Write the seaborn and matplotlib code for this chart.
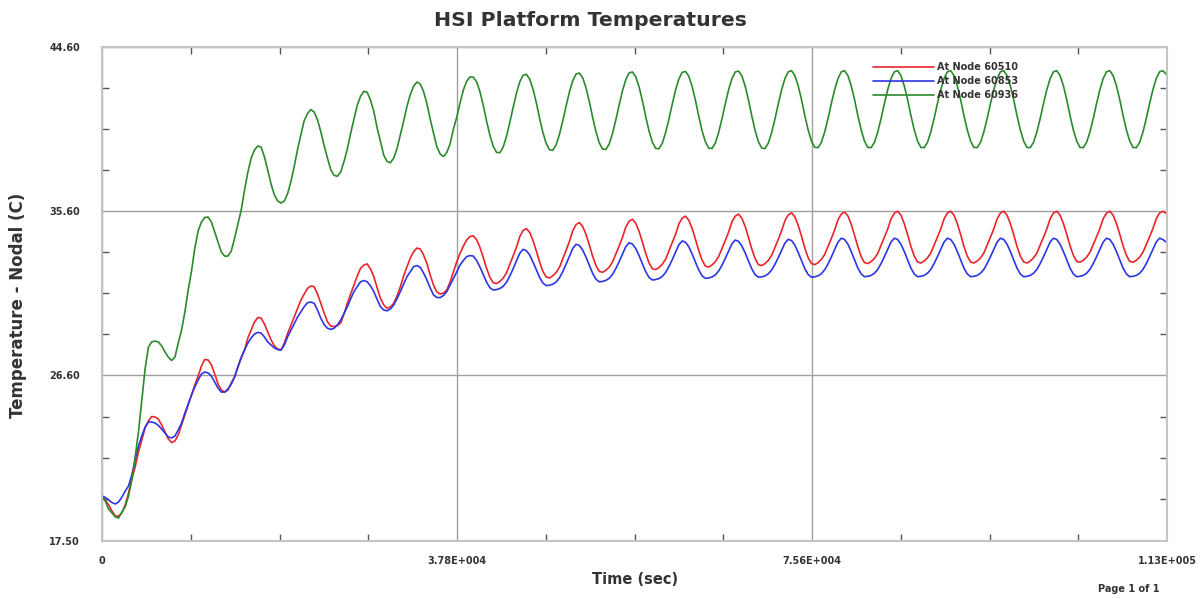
import numpy as np
import pandas as pd
import matplotlib
matplotlib.use("Agg")
import matplotlib.pyplot as plt
import seaborn as sns
from matplotlib.ticker import FixedLocator

# --------------------------
# DATA (one row = one daily-style cycle)
# --------------------------
time_s = [
    0, 353, 706, 1059, 1412, 1765, 2118, 2471, 2824, 3177, 3530, 3883, 4236, 4589, 4942, 5295,
    5648, 6001, 6354, 6707, 7060, 7413, 7766, 8119, 8472, 8825, 9178, 9531, 9884, 10237, 10590, 10943,
    11296, 11649, 12002, 12355, 12708, 13061, 13414, 13767, 14120, 14473, 14826, 15179, 15532, 15885, 16238, 16591,
    16944, 17297, 17650, 18003, 18356, 18709, 19062, 19415, 19768, 20121, 20474, 20827, 21180, 21533, 21886, 22239,
    22592, 22945, 23298, 23651, 24004, 24357, 24710, 25063, 25416, 25769, 26122, 26475, 26828, 27181, 27534, 27887,
    28240, 28593, 28946, 29299, 29652, 30005, 30358, 30711, 31064, 31417, 31770, 32123, 32476, 32829, 33182, 33535,
    33888, 34241, 34594, 34947, 35300, 35653, 36006, 36359, 36712, 37065, 37418, 37771, 38124, 38477, 38830, 39183,
    39536, 39889, 40242, 40595, 40948, 41301, 41654, 42007, 42360, 42713, 43066, 43419, 43772, 44125, 44478, 44831,
    45184, 45537, 45890, 46243, 46596, 46949, 47302, 47655, 48008, 48361, 48714, 49067, 49420, 49773, 50126, 50479,
    50832, 51185, 51538, 51891, 52244, 52597, 52950, 53303, 53656, 54009, 54362, 54715, 55068, 55421, 55774, 56127,
    56480, 56833, 57186, 57539, 57892, 58245, 58598, 58951, 59304, 59657, 60010, 60363, 60716, 61069, 61422, 61775,
    62128, 62481, 62834, 63187, 63540, 63893, 64246, 64599, 64952, 65305, 65658, 66011, 66364, 66717, 67070, 67423,
    67776, 68129, 68482, 68835, 69188, 69541, 69894, 70247, 70600, 70953, 71306, 71659, 72012, 72365, 72718, 73071,
    73424, 73777, 74130, 74483, 74836, 75189, 75542, 75895, 76248, 76601, 76954, 77307, 77660, 78013, 78366, 78719,
    79072, 79425, 79778, 80131, 80484, 80837, 81190, 81543, 81896, 82249, 82602, 82955, 83308, 83661, 84014, 84367,
    84720, 85073, 85426, 85779, 86132, 86485, 86838, 87191, 87544, 87897, 88250, 88603, 88956, 89309, 89662, 90015,
    90368, 90721, 91074, 91427, 91780, 92133, 92486, 92839, 93192, 93545, 93898, 94251, 94604, 94957, 95310, 95663,
    96016, 96369, 96722, 97075, 97428, 97781, 98134, 98487, 98840, 99193, 99546, 99899, 100252, 100605, 100958, 101311,
    101664, 102017, 102370, 102723, 103076, 103429, 103782, 104135, 104488, 104841, 105194, 105547, 105900, 106253, 106606, 106959,
    107312, 107665, 108018, 108371, 108724, 109077, 109430, 109783, 110136, 110489, 110842, 111195, 111548, 111901, 112254, 112607,
    112960, 113400,
]

node_60510 = [
    19.97, 19.75, 19.48, 19.15, 18.87, 18.87, 19.04, 19.48, 20.13, 20.90, 21.56, 22.38, 23.04, 23.70, 24.08, 24.33,
    24.30, 24.19, 23.86, 23.48, 23.10, 22.90, 22.99, 23.32, 23.86, 24.41, 24.96, 25.51, 26.06, 26.55, 27.10, 27.46,
    27.43, 27.16, 26.66, 26.11, 25.78, 25.67, 25.78, 26.17, 26.50, 27.05, 27.59, 27.98, 28.64, 29.07, 29.51, 29.76,
    29.73, 29.40, 28.97, 28.53, 28.20, 28.03, 27.98, 28.36, 28.89, 29.35, 29.80, 30.28, 30.72, 31.05, 31.36, 31.49,
    31.45, 31.05, 30.54, 30.01, 29.53, 29.29, 29.26, 29.32, 29.46, 29.95, 30.54, 31.05, 31.54, 32.04, 32.46, 32.64,
    32.70, 32.42, 32.00, 31.38, 30.81, 30.45, 30.27, 30.34, 30.54, 30.94, 31.45, 32.04, 32.55, 33.02, 33.37, 33.57,
    33.52, 33.19, 32.73, 32.09, 31.54, 31.16, 31.05, 31.10, 31.27, 31.71, 32.27, 32.81, 33.28, 33.68, 34.01, 34.20,
    34.24, 34.03, 33.61, 33.06, 32.46, 31.97, 31.67, 31.62, 31.74, 31.92, 32.21, 32.67, 33.13, 33.61, 34.19, 34.53,
    34.64, 34.43, 33.99, 33.42, 32.80, 32.29, 31.98, 31.93, 32.05, 32.23, 32.52, 32.98, 33.45, 33.94, 34.52, 34.86,
    34.97, 34.75, 34.32, 33.74, 33.12, 32.61, 32.29, 32.24, 32.35, 32.53, 32.81, 33.25, 33.69, 34.16, 34.72, 35.04,
    35.15, 34.93, 34.49, 33.90, 33.28, 32.76, 32.44, 32.39, 32.50, 32.68, 32.96, 33.41, 33.85, 34.32, 34.89, 35.21,
    35.32, 35.10, 34.65, 34.06, 33.43, 32.91, 32.58, 32.53, 32.64, 32.82, 33.10, 33.54, 33.98, 34.44, 35.00, 35.32,
    35.43, 35.21, 34.76, 34.16, 33.52, 32.99, 32.66, 32.61, 32.72, 32.90, 33.17, 33.61, 34.05, 34.52, 35.07, 35.39,
    35.50, 35.28, 34.82, 34.22, 33.57, 33.04, 32.72, 32.66, 32.77, 32.95, 33.22, 33.66, 34.10, 34.57, 35.12, 35.44,
    35.55, 35.33, 34.87, 34.27, 33.63, 33.10, 32.77, 32.72, 32.83, 33.00, 33.28, 33.72, 34.15, 34.61, 35.17, 35.48,
    35.59, 35.37, 34.91, 34.31, 33.66, 33.13, 32.81, 32.75, 32.86, 33.03, 33.30, 33.73, 34.17, 34.62, 35.17, 35.49,
    35.59, 35.37, 34.91, 34.31, 33.66, 33.13, 32.81, 32.75, 32.86, 33.03, 33.30, 33.73, 34.17, 34.62, 35.17, 35.49,
    35.59, 35.37, 34.91, 34.31, 33.66, 33.13, 32.81, 32.75, 32.86, 33.03, 33.30, 33.73, 34.17, 34.62, 35.17, 35.49,
    35.59, 35.37, 34.92, 34.33, 33.69, 33.17, 32.84, 32.79, 32.90, 33.07, 33.34, 33.76, 34.19, 34.64, 35.18, 35.49,
    35.59, 35.37, 34.92, 34.33, 33.69, 33.17, 32.84, 32.79, 32.90, 33.07, 33.34, 33.76, 34.19, 34.64, 35.18, 35.49,
    35.59, 35.44,
]

node_60853 = [
    19.97, 19.89, 19.75, 19.61, 19.53, 19.64, 19.91, 20.24, 20.52, 21.12, 21.94, 22.71, 23.26, 23.75, 24.03, 24.03,
    23.97, 23.84, 23.64, 23.42, 23.21, 23.15, 23.26, 23.59, 23.97, 24.52, 25.02, 25.51, 25.95, 26.33, 26.66, 26.77,
    26.72, 26.55, 26.22, 25.89, 25.67, 25.67, 25.84, 26.11, 26.50, 27.05, 27.54, 27.98, 28.36, 28.64, 28.86, 28.94,
    28.91, 28.69, 28.42, 28.25, 28.09, 28.00, 27.98, 28.25, 28.71, 29.07, 29.44, 29.79, 30.08, 30.36, 30.57, 30.61,
    30.54, 30.17, 29.72, 29.38, 29.17, 29.11, 29.17, 29.35, 29.62, 29.98, 30.35, 30.78, 31.18, 31.46, 31.72, 31.79,
    31.72, 31.49, 31.18, 30.75, 30.35, 30.17, 30.13, 30.23, 30.45, 30.80, 31.18, 31.60, 32.00, 32.28, 32.55, 32.61,
    32.51, 32.20, 31.82, 31.38, 31.00, 30.86, 30.85, 30.97, 31.18, 31.54, 31.91, 32.26, 32.64, 32.89, 33.10, 33.16,
    33.13, 32.89, 32.53, 32.11, 31.70, 31.40, 31.27, 31.29, 31.35, 31.47, 31.69, 32.03, 32.43, 32.85, 33.28, 33.50,
    33.43, 33.19, 32.81, 32.38, 31.96, 31.65, 31.51, 31.53, 31.59, 31.71, 31.94, 32.28, 32.69, 33.12, 33.55, 33.78,
    33.71, 33.46, 33.07, 32.62, 32.18, 31.86, 31.72, 31.74, 31.80, 31.91, 32.13, 32.45, 32.83, 33.24, 33.65, 33.86,
    33.79, 33.54, 33.16, 32.71, 32.28, 31.96, 31.82, 31.84, 31.90, 32.01, 32.23, 32.55, 32.93, 33.34, 33.75, 33.96,
    33.89, 33.64, 33.25, 32.80, 32.37, 32.05, 31.91, 31.93, 31.98, 32.10, 32.31, 32.62, 33.00, 33.40, 33.80, 34.01,
    33.94, 33.69, 33.31, 32.86, 32.43, 32.11, 31.97, 31.99, 32.04, 32.16, 32.37, 32.68, 33.05, 33.45, 33.84, 34.05,
    33.98, 33.73, 33.33, 32.88, 32.44, 32.12, 31.97, 31.99, 32.05, 32.16, 32.38, 32.70, 33.08, 33.49, 33.90, 34.11,
    34.04, 33.78, 33.38, 32.92, 32.47, 32.15, 32.00, 32.02, 32.07, 32.19, 32.40, 32.72, 33.10, 33.50, 33.90, 34.11,
    34.04, 33.78, 33.38, 32.92, 32.47, 32.15, 32.00, 32.02, 32.07, 32.19, 32.40, 32.72, 33.10, 33.50, 33.90, 34.11,
    34.04, 33.78, 33.38, 32.92, 32.47, 32.15, 32.00, 32.02, 32.07, 32.19, 32.40, 32.72, 33.10, 33.50, 33.90, 34.11,
    34.04, 33.78, 33.38, 32.92, 32.47, 32.15, 32.00, 32.02, 32.07, 32.19, 32.40, 32.72, 33.10, 33.50, 33.90, 34.11,
    34.04, 33.78, 33.38, 32.92, 32.47, 32.15, 32.00, 32.02, 32.07, 32.19, 32.40, 32.72, 33.10, 33.50, 33.90, 34.11,
    34.04, 33.78, 33.38, 32.92, 32.47, 32.15, 32.00, 32.02, 32.07, 32.19, 32.40, 32.72, 33.10, 33.50, 33.90, 34.11,
    34.04, 33.86,
]

node_60936 = [
    19.97, 19.69, 19.25, 19.04, 18.82, 18.76, 19.09, 19.37, 19.97, 20.85, 22.11, 23.48, 25.23, 26.94, 28.14, 28.42,
    28.47, 28.42, 28.20, 27.87, 27.59, 27.40, 27.59, 28.36, 29.07, 30.06, 31.27, 32.31, 33.57, 34.51, 35.00, 35.25,
    35.27, 35.00, 34.45, 33.90, 33.35, 33.13, 33.13, 33.41, 34.12, 34.89, 35.66, 36.75, 37.74, 38.51, 38.95, 39.17,
    39.11, 38.57, 37.85, 37.08, 36.48, 36.15, 36.04, 36.15, 36.56, 37.23, 38.07, 38.99, 39.80, 40.57, 40.95, 41.17,
    41.03, 40.60, 39.96, 39.19, 38.51, 37.87, 37.56, 37.51, 37.74, 38.32, 39.00, 39.86, 40.65, 41.41, 41.90, 42.17,
    42.11, 41.69, 41.06, 40.15, 39.42, 38.66, 38.32, 38.25, 38.51, 39.03, 39.78, 40.54, 41.35, 42.00, 42.45, 42.68,
    42.57, 42.16, 41.50, 40.64, 39.88, 39.13, 38.73, 38.59, 38.81, 39.28, 40.10, 40.74, 41.53, 42.24, 42.72, 42.96,
    42.95, 42.69, 42.15, 41.40, 40.54, 39.77, 39.16, 38.82, 38.80, 39.10, 39.69, 40.45, 41.27, 42.05, 42.68, 43.05,
    43.10, 42.84, 42.30, 41.55, 40.69, 39.91, 39.30, 38.96, 38.94, 39.24, 39.81, 40.56, 41.37, 42.14, 42.75, 43.12,
    43.17, 42.91, 42.36, 41.60, 40.74, 39.96, 39.34, 39.00, 38.98, 39.28, 39.86, 40.61, 41.42, 42.20, 42.81, 43.18,
    43.23, 42.97, 42.42, 41.66, 40.79, 40.00, 39.39, 39.04, 39.02, 39.32, 39.90, 40.64, 41.46, 42.23, 42.84, 43.21,
    43.26, 43.00, 42.44, 41.68, 40.81, 40.01, 39.40, 39.05, 39.03, 39.33, 39.91, 40.66, 41.47, 42.25, 42.86, 43.23,
    43.28, 43.02, 42.46, 41.69, 40.82, 40.02, 39.40, 39.05, 39.03, 39.33, 39.91, 40.66, 41.48, 42.25, 42.87, 43.24,
    43.30, 43.03, 42.47, 41.71, 40.84, 40.05, 39.44, 39.09, 39.08, 39.37, 39.94, 40.68, 41.50, 42.26, 42.87, 43.24,
    43.30, 43.03, 42.47, 41.71, 40.84, 40.05, 39.44, 39.09, 39.08, 39.37, 39.94, 40.68, 41.50, 42.26, 42.87, 43.24,
    43.30, 43.03, 42.47, 41.71, 40.84, 40.05, 39.44, 39.09, 39.08, 39.37, 39.94, 40.68, 41.50, 42.26, 42.87, 43.24,
    43.30, 43.03, 42.47, 41.71, 40.84, 40.05, 39.44, 39.09, 39.08, 39.37, 39.94, 40.68, 41.50, 42.26, 42.87, 43.24,
    43.30, 43.03, 42.47, 41.71, 40.84, 40.05, 39.44, 39.09, 39.08, 39.37, 39.94, 40.68, 41.50, 42.26, 42.87, 43.24,
    43.30, 43.03, 42.47, 41.71, 40.84, 40.05, 39.44, 39.09, 39.08, 39.37, 39.94, 40.68, 41.50, 42.26, 42.87, 43.24,
    43.30, 43.03, 42.47, 41.71, 40.84, 40.05, 39.44, 39.09, 39.08, 39.37, 39.94, 40.68, 41.50, 42.26, 42.87, 43.24,
    43.30, 43.06,
]

series_names = ["At Node 60510", "At Node 60853", "At Node 60936"]
line_colors = ["#e8252b", "#2c36e4", "#2b8a2b"]

x_ticks = [0, 37800, 75600, 113400]
x_tick_labels = ["0", "3.78E+004", "7.56E+004", "1.13E+005"]
x_minor = [9450, 18900, 28350, 47250, 56700, 66150, 85050, 94500, 103950]
y_ticks = [17.5, 26.6, 35.6, 44.6]
y_tick_labels = ["17.50", "26.60", "35.60", "44.60"]
y_minor = [19.8, 22.05, 24.3, 28.85, 31.1, 33.35, 37.85, 40.1, 42.35]

# --------------------------
# LONG FORMAT TABLE
# --------------------------
frames = []
for name, vals in zip(series_names, [node_60510, node_60853, node_60936]):
    assert len(vals) == len(time_s)
    frames.append(pd.DataFrame({"time": time_s, "temp": vals, "node": name}))
df = pd.concat(frames, ignore_index=True)

# --------------------------
# PLOT
# --------------------------
sns.set_style("white")
plt.rcParams["font.family"] = ["DejaVu Sans"]

fig = plt.figure(figsize=(12.04, 5.99), dpi=100)
ax = fig.add_axes([102 / 1204, 1 - 541 / 599, 1065 / 1204, 494 / 599])

sns.lineplot(data=df, x="time", y="temp", hue="node", hue_order=series_names,
             palette=line_colors, linewidth=1.2, ax=ax, estimator=None, sort=False)

ax.set_xlim(0, 113400)
ax.set_ylim(17.5, 44.6)

ax.set_xticks(x_ticks)
ax.set_xticklabels(x_tick_labels)
ax.set_yticks(y_ticks)
ax.set_yticklabels(y_tick_labels)
ax.xaxis.set_minor_locator(FixedLocator(x_minor))
ax.yaxis.set_minor_locator(FixedLocator(y_minor))

ax.grid(True, which="major", color="#a0a0a0", linewidth=1.0)
ax.tick_params(which="major", length=0, labelsize=7, labelcolor="#333333")
ax.tick_params(axis="y", which="major", pad=15.8)
ax.tick_params(axis="x", which="major", pad=10.5)
ax.tick_params(which="minor", direction="in", length=5, width=1, color="#555555",
               top=True, bottom=True, left=True, right=True)
for lbl in ax.get_xticklabels() + ax.get_yticklabels():
    lbl.set_fontweight("bold")

for sp in ax.spines.values():
    sp.set_color("#c4c4c4")
    sp.set_linewidth(1.5)

ax.set_xlabel("")
ax.set_ylabel("")

handles, labels = ax.get_legend_handles_labels()
leg = ax.legend(handles, labels, loc="upper left", bbox_to_anchor=(0.724, 0.969),
                frameon=False, fontsize=7, handlelength=6.3, handletextpad=0.3,
                labelspacing=0.4, borderpad=0, borderaxespad=0)
for t in leg.get_texts():
    t.set_fontweight("bold")
    t.set_color("#333333")

fig.text(590 / 1204, 1 - 20 / 599, "HSI Platform Temperatures", ha="center", va="center",
         fontsize=14.7, fontweight="bold", color="#333333")
fig.text(18 / 1204, 1 - 305 / 599, "Temperature - Nodal (C)", ha="center", va="center",
         rotation=90, fontsize=12, fontweight="bold", color="#333333")
fig.text(635 / 1204, 1 - 580 / 599, "Time (sec)", ha="center", va="center",
         fontsize=10.5, fontweight="bold", color="#333333")
fig.text(1160 / 1204, 1 - 589 / 599, "Page 1 of 1", ha="right", va="center",
         fontsize=7, fontweight="bold", color="#333333")

fig.savefig("out.png", dpi=100)
